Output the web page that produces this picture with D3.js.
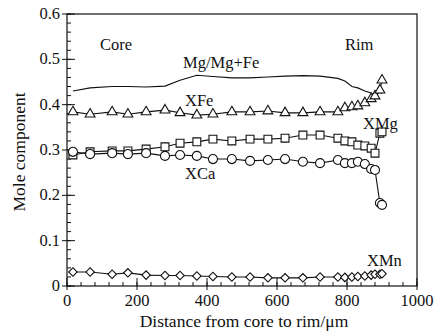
<!DOCTYPE html>
<html>
<head>
<meta charset="utf-8">
<script src="https://cdn.jsdelivr.net/npm/d3@7"></script>
<style>
  body { margin: 0; background: #fff; }
  svg text { font-family: "Liberation Serif", "DejaVu Serif", serif; fill: #111; }
</style>
</head>
<body>
<div id="chart"></div>
<script>
// distances from core (µm) of the analysed spots
var distance = [17, 66, 129, 174, 226, 280, 323, 371, 417, 471, 523, 574, 623, 674, 723, 774, 794, 814, 831, 851, 869, 880, 894, 900];

var mgNumber = [0.430, 0.437, 0.440, 0.440, 0.439, 0.441, 0.454, 0.465, 0.462, 0.459, 0.459, 0.461, 0.463, 0.464, 0.463, 0.458, 0.452, 0.440, 0.437, 0.430, 0.426, 0.420, 0.428, 0.424];
var xFe = [0.384, 0.379, 0.384, 0.379, 0.384, 0.388, 0.382, 0.377, 0.379, 0.384, 0.384, 0.386, 0.382, 0.382, 0.384, 0.384, 0.393, 0.395, 0.397, 0.404, 0.413, 0.419, 0.432, 0.454];
var xMg = [0.289, 0.296, 0.298, 0.298, 0.302, 0.307, 0.315, 0.318, 0.324, 0.320, 0.324, 0.324, 0.326, 0.333, 0.333, 0.326, 0.320, 0.318, 0.311, 0.309, 0.304, 0.293, 0.337, 0.340];
var xCa = [0.296, 0.291, 0.293, 0.291, 0.293, 0.287, 0.289, 0.287, 0.280, 0.280, 0.276, 0.278, 0.280, 0.274, 0.271, 0.278, 0.271, 0.271, 0.274, 0.269, 0.258, 0.256, 0.183, 0.179];
var xMn = [0.031, 0.031, 0.026, 0.029, 0.024, 0.023, 0.023, 0.022, 0.021, 0.020, 0.020, 0.018, 0.018, 0.018, 0.020, 0.020, 0.019, 0.020, 0.021, 0.022, 0.024, 0.026, 0.026, 0.027];

var xTicks = [0, 200, 400, 600, 800, 1000];
var yTicks = [0, 0.1, 0.2, 0.3, 0.4, 0.5, 0.6];

var W = 436, H = 332;
var margin = {left: 67, right: 19, top: 14, bottom: 46};

var svg = d3.select("#chart").append("svg")
    .attr("width", W).attr("height", H);

var x = d3.scaleLinear().domain([0, 1000]).range([margin.left, W - margin.right]);
var y = d3.scaleLinear().domain([0, 0.6]).range([H - margin.bottom, margin.top]);

// frame
svg.append("rect")
    .attr("x", x(0)).attr("y", y(0.6))
    .attr("width", x(1000) - x(0)).attr("height", y(0) - y(0.6))
    .attr("fill", "none").attr("stroke", "#111").attr("stroke-width", 1.2);

// minor ticks (inside)
var xMinor = d3.range(0, 1001, 40), yMinor = d3.range(0, 0.601, 0.02);
svg.selectAll(".xminor").data(xMinor).enter().append("line")
    .attr("x1", function(d){ return x(d); }).attr("x2", function(d){ return x(d); })
    .attr("y1", y(0)).attr("y2", y(0) - 4)
    .attr("stroke", "#111");
svg.selectAll(".yminor").data(yMinor).enter().append("line")
    .attr("y1", function(d){ return y(d); }).attr("y2", function(d){ return y(d); })
    .attr("x1", x(0)).attr("x2", x(0) + 4)
    .attr("stroke", "#111");

// major ticks, crossing the axis
svg.selectAll(".xmajor").data(xTicks).enter().append("line")
    .attr("x1", function(d){ return x(d); }).attr("x2", function(d){ return x(d); })
    .attr("y1", y(0) + 4).attr("y2", y(0) - 8)
    .attr("stroke", "#111");
svg.selectAll(".ymajor").data(yTicks).enter().append("line")
    .attr("y1", function(d){ return y(d); }).attr("y2", function(d){ return y(d); })
    .attr("x1", x(0) - 5).attr("x2", x(0) + 8)
    .attr("stroke", "#111");

svg.selectAll(".xlab").data(xTicks).enter().append("text")
    .attr("x", function(d){ return x(d); }).attr("y", y(0) + 20)
    .attr("text-anchor", "middle").attr("font-size", 16.5)
    .text(function(d){ return d; });
svg.selectAll(".ylab").data(yTicks).enter().append("text")
    .attr("x", x(0) - 7).attr("y", function(d){ return y(d) + 5; })
    .attr("text-anchor", "end").attr("font-size", 16.5)
    .text(function(d){ return d === 0 ? "0" : d3.format(".1f")(d); });

svg.append("text")
    .attr("x", (x(0) + x(1000)) / 2 + 2).attr("y", H - 5)
    .attr("text-anchor", "middle").attr("font-size", 17.5)
    .text("Distance from core to rim/\u03bcm");
svg.append("text")
    .attr("transform", "translate(25," + ((y(0) + y(0.6)) / 2 + 2) + ") rotate(-90)")
    .attr("text-anchor", "middle").attr("font-size", 17.5)
    .text("Mole component");

// series
var line = d3.line()
    .x(function(d, i){ return x(distance[i]); })
    .y(function(d){ return y(d); });

var series = [
    {values: mgNumber, symbol: null},
    {values: xFe, symbol: d3.symbolTriangle, size: 42, rot: 0},
    {values: xMg, symbol: d3.symbolSquare, size: 62, rot: 0},
    {values: xCa, symbol: d3.symbolCircle, size: 64, rot: 0},
    {values: xMn, symbol: d3.symbolSquare, size: 36, rot: 45}
];

series.forEach(function(s){
    svg.append("path")
        .attr("d", line(s.values))
        .attr("fill", "none").attr("stroke", "#111").attr("stroke-width", 1.1);
    if (!s.symbol) return;
    svg.selectAll(null).data(s.values).enter().append("path")
        .attr("d", d3.symbol().type(s.symbol).size(s.size))
        .attr("transform", function(d, i){
            return "translate(" + x(distance[i]) + "," + y(d) + ") rotate(" + s.rot + ")";
        })
        .attr("fill", "#fff").attr("stroke", "#111").attr("stroke-width", 1.1);
});

// annotations
var notes = [
    {t: "Core", x: 100, y: 50},
    {t: "Rim", x: 345, y: 50},
    {t: "Mg/Mg+Fe", x: 183, y: 68},
    {t: "XFe", x: 185, y: 106},
    {t: "XMg", x: 363, y: 129},
    {t: "XCa", x: 185, y: 179},
    {t: "XMn", x: 367, y: 266}
];
svg.selectAll(".note").data(notes).enter().append("text")
    .attr("x", function(d){ return d.x; }).attr("y", function(d){ return d.y; })
    .attr("font-size", 16.5)
    .text(function(d){ return d.t; });
</script>
</body>
</html>
